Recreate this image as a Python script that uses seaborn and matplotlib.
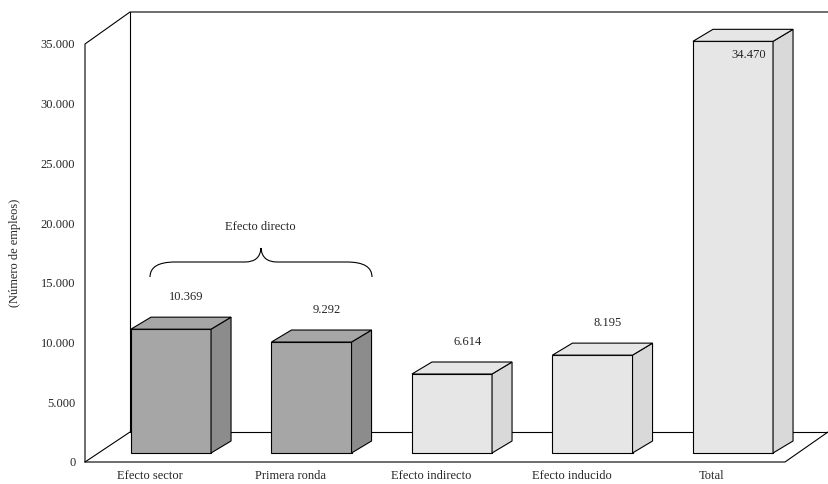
import matplotlib
matplotlib.use("Agg")
import matplotlib.pyplot as plt
import seaborn as sns
import pandas as pd
import numpy as np
from matplotlib.patches import Polygon, PathPatch
from matplotlib.path import Path

categories = ["Efecto sector", "Primera ronda", "Efecto indirecto", "Efecto inducido", "Total"]
values = [10369, 9292, 6614, 8195, 34470]
value_labels = ["10.369", "9.292", "6.614", "8.195", "34.470"]
yticks = [0, 5000, 10000, 15000, 20000, 25000, 30000, 35000]
ytick_labels = ["0", "5.000", "10.000", "15.000", "20.000", "25.000", "30.000", "35.000"]
front_colors = ["#a6a6a6", "#a6a6a6", "#e6e6e6", "#e6e6e6", "#e6e6e6"]
side_colors = ["#8c8c8c", "#8c8c8c", "#d9d9d9", "#d9d9d9", "#d9d9d9"]

sns.set_style("white")
plt.rcParams['font.family'] = ['Liberation Serif', 'DejaVu Serif']

W, H = 829, 484
fig = plt.figure(figsize=(W/100, H/100), dpi=100)

def fp(px, py):
    return (px / W, 1 - py / H)

L, R, T, B = 85, 828, 44, 462
pos = [L/W, 1-B/H, (R-L)/W, (B-T)/H]
ax = fig.add_axes(pos)
ax.set_ylim(0, 35000)
xl = (-86/140.5, 657/140.5)
ax.set_xlim(*xl)
for s in ax.spines.values():
    s.set_visible(False)
ax.set_yticks(yticks)
ax.set_yticklabels(ytick_labels, fontsize=9)
ax.tick_params(axis='y', length=4, width=0.8, color='black', direction='out', pad=3)
ax.set_xticks([i - 0.15 for i in range(5)])
ax.set_xticklabels(categories, fontsize=9)
ax.tick_params(axis='x', length=0, pad=6)
ax.set_ylabel("(Número de empleos)", fontsize=9, labelpad=14)
ax.patch.set_alpha(0)

# frame lines drawn in the back axes
def line(pts):
    xs, ys = zip(*[fp(a, b) for a, b in pts])
    ax.add_line(plt.Line2D(xs, ys, color="black", lw=0.8, transform=fig.transFigure, clip_on=False))

line([(85, 462), (85, 44), (130, 12), (828, 12)])
line([(130, 12), (130, 432), (828, 432)])
line([(85, 462), (130, 432)])
line([(85, 462), (785, 462), (828, 432)])

# bar axes (shifted up by depth offset)
upx = 0.01194
off = 9 / upx
bx = fig.add_axes(pos)
bx.set_xlim(*xl)
bx.set_ylim(-off, 35000 - off)
bx.axis("off")
df = pd.DataFrame({"x": np.arange(5), "v": values})
sns.barplot(data=df, x="x", y="v", ax=bx, native_scale=True, width=0.57,
            palette=front_colors, hue="x", legend=False, edgecolor="black", linewidth=0.8)
bx.set_xlim(*xl)
bx.set_ylim(-off, 35000 - off)
ddx, ddy = 20/140.5, 12/upx
for i, p in enumerate(list(bx.patches)):
    p.set_clip_on(False)
    x0, w, h = p.get_x(), p.get_width(), p.get_height()
    top = Polygon([(x0, h), (x0+ddx, h+ddy), (x0+w+ddx, h+ddy), (x0+w, h)],
                  closed=True, fc=front_colors[i], ec="black", lw=0.8, clip_on=False)
    side = Polygon([(x0+w, 0), (x0+w+ddx, ddy), (x0+w+ddx, h+ddy), (x0+w, h)],
                   closed=True, fc=side_colors[i], ec="black", lw=0.8, clip_on=False)
    bx.add_patch(side); bx.add_patch(top)
    if i == 4:
        bx.text(x0 + w/2 + 0.11, h - 1150, value_labels[i], ha="center", va="center", fontsize=9)
    else:
        bx.text(x0 + w/2 + 0.11, h + ddy + 1700, value_labels[i], ha="center", va="center", fontsize=9)

# brace
verts = [fp(150, 277), fp(150, 262), fp(175, 262),
         fp(245, 262), fp(260, 262), fp(261, 248),
         fp(262, 262), fp(277, 262), fp(347, 262),
         fp(372, 262), fp(372, 277)]
codes = [Path.MOVETO, Path.CURVE3, Path.CURVE3, Path.LINETO, Path.CURVE3, Path.CURVE3,
         Path.CURVE3, Path.CURVE3, Path.LINETO, Path.CURVE3, Path.CURVE3]
fig.add_artist(PathPatch(Path(verts, codes), fc="none", ec="black", lw=0.8,
                         transform=fig.transFigure))
fig.text(*fp(260, 227), "Efecto directo", ha="center", va="center", fontsize=9)

fig.savefig("out.png", dpi=100)
